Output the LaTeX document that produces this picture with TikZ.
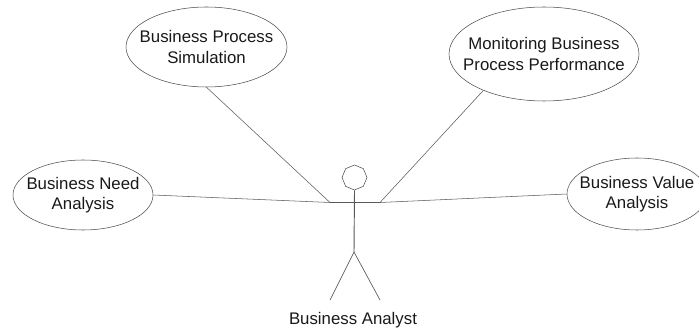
\documentclass[tikz,border=0pt]{standalone}
\usepackage{fontspec}
\setmainfont{Liberation Sans}
\usetikzlibrary{shapes.geometric,positioning}
\tikzset{
    every node/.style={font=\fontsize{12.6}{15.5}\selectfont,text=black!90},
    usecase/.style={draw=black!70,ellipse,inner xsep=-30pt,inner ysep=-15pt,align=center,line width=0.4pt},
    limb/.style={draw=black!65,line width=0.5pt},
    assoc/.style={draw=black!65,line width=0.4pt}
}

\begin{document}
\begin{tikzpicture}[x=0.75pt,y=-0.75pt]
            \useasboundingbox (0,0) rectangle (699,331);

            % Use cases
            \node[usecase,minimum width=120.75pt,minimum height=60pt] (simulation) at (206.5,47) {Business Process\\Simulation};
            \node[usecase,minimum width=142.5pt,minimum height=70.5pt] (monitoring) at (544,54) {Monitoring Business\\Process Performance};
            \node[usecase,minimum width=105pt,minimum height=52.5pt] (need) at (83,195) {Business Need\\Analysis};
            \node[usecase,minimum width=105pt,minimum height=54pt] (value) at (637,194) {Business Value\\Analysis};

            % Actor
            \node[draw=black!70,regular polygon,regular polygon sides=8,shape border rotate=22.5,minimum size=18.75pt,inner sep=0pt] (head) at (354.5,177.5) {};
            \coordinate (lefthand) at (330,202.5);
            \coordinate (righthand) at (380,202.5);
            \coordinate (hip) at (354,252);
            \coordinate (leftfoot) at (330,300);
            \coordinate (rightfoot) at (380,300);
            \draw[limb,line width=0.7pt] (lefthand) -- (righthand);
            \draw[limb,line width=0.7pt] (head.south) -- (hip);
            \draw[limb] (leftfoot) -- (hip) -- (rightfoot);
            \node (analyst) at (353,320) {Business Analyst};

            % Associations
            \draw[assoc] (simulation.south) -- (lefthand);
            \draw[assoc] (need.east) -- (lefthand);
            \draw[assoc] (monitoring.211) -- (righthand);
            \draw[assoc] (value.west) -- (righthand);
        \end{tikzpicture}
\end{document}
